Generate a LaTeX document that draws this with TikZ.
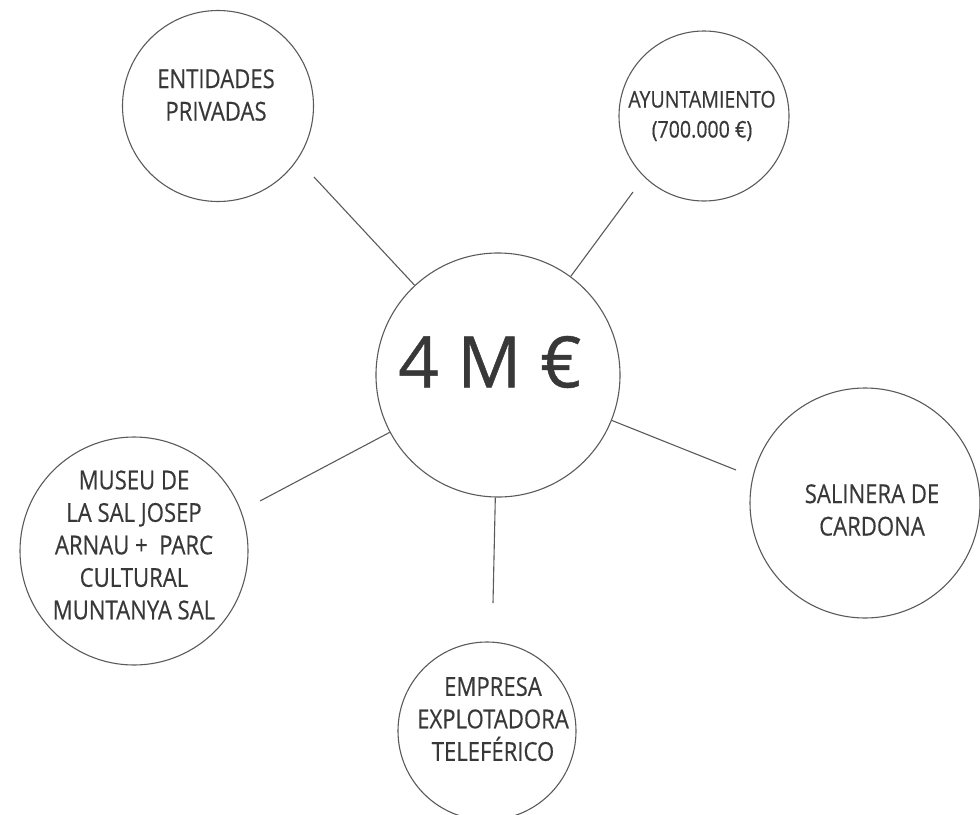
\documentclass[tikz,border=0pt]{standalone}
\usepackage{fontspec}
\usepackage{tikz}
\usetikzlibrary{positioning}
\newfontfamily\lblfont[FakeStretch=0.85, FakeBold=0.4]{Open Sans}
\newfontfamily\hubfont[FakeBold=0.6]{Open Sans}
\definecolor{ink}{HTML}{383838}
\definecolor{rim}{HTML}{5a5a5a}

\tikzset{
    bubble/.style={draw=rim, line width=1.1pt, circle, inner sep=0pt},
    caption/.style={text=ink, align=center, inner sep=0pt, font=\lblfont\fontsize{26}{32.5}\selectfont},
    link/.style={draw=rim, line width=1.1pt},
}

\begin{document}
\begin{tikzpicture}[x=1pt, y=-1pt]
    \useasboundingbox (0,0) rectangle (980,814);

    % total amount in the middle
    \node[bubble, minimum size=244] (hub) at (498,375) {};
    \node[text=ink, inner sep=0pt, font=\hubfont\fontsize{71}{80}\selectfont] (hubtxt) at (490,362) {4 M €};

    % contributors around it
    \node[bubble, minimum size=191] (ent) at (218,106) {};
    \node[caption] (enttxt) at (216,95) {ENTIDADES\\PRIVADAS};

    \node[bubble, minimum size=170] (ayu) at (704,116) {};
    \node[caption, font=\lblfont\fontsize{23}{30}\selectfont] (ayutxt) at (702,116) {AYUNTAMIENTO\\(700.000 €)};

    \node[bubble, minimum size=228] (mus) at (134,551) {};
    \node[caption] (mustxt) at (134,545) {MUSEU DE\\LA SAL JOSEP\\ARNAU + \ PARC\\CULTURAL\\MUNTANYA SAL};

    \node[bubble, minimum size=230] (sal) at (865,503) {};
    \node[caption] (saltxt) at (872,510) {SALINERA DE\\CARDONA};

    \node[bubble, minimum size=178] (emp) at (487,731) {};
    \node[caption] (emptxt) at (493,719) {EMPRESA\\EXPLOTADORA\\TELEFÉRICO};

    % spokes, free ends stop short of the outer circles
    \coordinate (entEnd) at (314,177);
    \coordinate (ayuEnd) at (633,192);
    \coordinate (musEnd) at (260,501);
    \coordinate (salEnd) at (736,470);
    \coordinate (empEnd) at (493,603);

    \draw[link] (hub) -- (entEnd);
    \draw[link] (hub) -- (ayuEnd);
    \draw[link] (hub) -- (musEnd);
    \draw[link] (hub) -- (salEnd);
    \draw[link] (hub) -- (empEnd);
\end{tikzpicture}
\end{document}
